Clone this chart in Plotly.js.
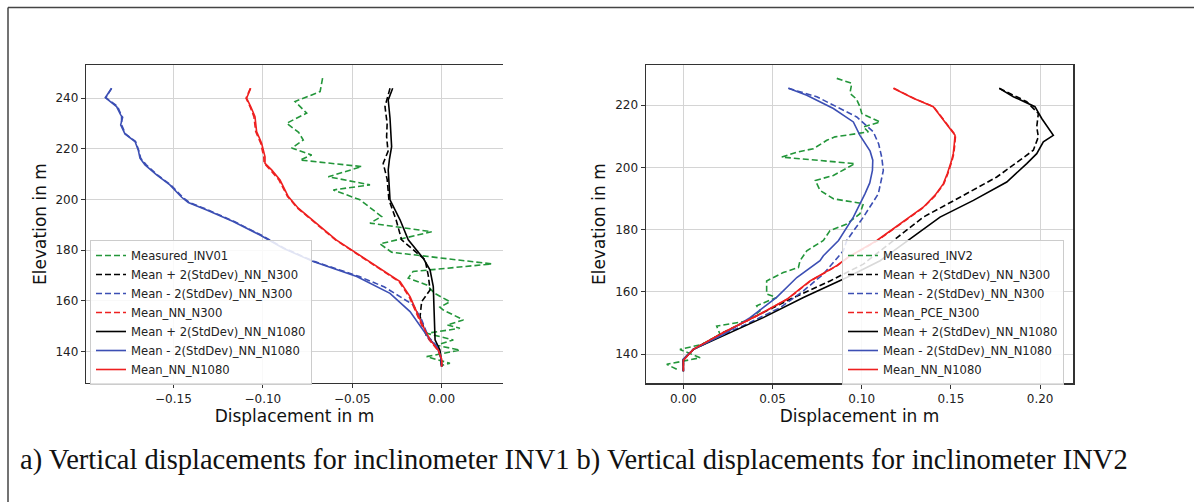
<!DOCTYPE html>
<html>
<head>
<meta charset="utf-8">
<script src="https://cdn.plot.ly/plotly-3.0.1.min.js"></script>
<style>html,body{margin:0;padding:0;background:#fff;}#chart{width:1194px;height:502px;}</style>
</head>
<body>
<div id="chart"></div>
<script>
// ---------------- INV1 (left panel) ----------------
const inv1MeasElev = [247.9,242.6,238.7,234.1,230.1,226.5,223.5,220.3,217.6,215.6,213.0,209.0,205.8,203.8,199.9,193.3,190.7,187.3,182.5,179.2,174.6,171.6,169.0,166.3,163.0,159.7,157.5,156.4,152.5,150.5,149.2,147.2,144.6,142.5,140.6,138.0,135.4,134.5];
const inv1MeasDisp = [-0.0666,-0.0680,-0.0820,-0.0755,-0.0867,-0.0800,-0.0774,-0.0839,-0.0727,-0.0792,-0.0447,-0.0634,-0.0401,-0.0606,-0.0457,-0.0336,-0.0401,-0.0056,-0.0345,-0.0280,0.0280,-0.0160,-0.0187,-0.0084,-0.0040,0.0046,-0.0010,0.0009,0.0121,0.0030,0.0102,-0.0084,0.0065,-0.0030,0.0102,-0.0084,0.0046,0.0000];

const inv1PlusN300Elev = [243.9,236.7,230.0,224.8,219.0,214.3,208.0,201.2,199.9,192.0,184.1,176.2,170.0,164.3,159.7,153.8,145.9,140.6,134.0];
const inv1PlusN300Disp = [-0.0289,-0.0317,-0.0305,-0.0308,-0.0300,-0.0327,-0.0305,-0.0299,-0.0295,-0.0255,-0.0224,-0.0093,-0.0075,-0.0065,-0.0112,-0.0121,-0.0084,-0.0010,0.0000];

const inv1MinusN300Elev = [243.9,240.2,236.7,233.0,229.5,225.9,222.9,219.6,216.3,213.7,209.7,205.8,200.9,198.8,195.9,191.3,186.0,180.8,175.5,169.6,165.5,161.7,158.4,152.5,145.9,142.2,138.0,134.0];
const inv1MinusN300Disp = [-0.1846,-0.1878,-0.1812,-0.1790,-0.1790,-0.1768,-0.1712,-0.1695,-0.1683,-0.1652,-0.1590,-0.1515,-0.1448,-0.1410,-0.1306,-0.1160,-0.1010,-0.0880,-0.0710,-0.0460,-0.0320,-0.0233,-0.0159,-0.0112,-0.0075,-0.0028,-0.0005,0.0000];

const inv1MeanN300Elev = [243.9,240.0,236.7,232.7,226.8,222.2,216.9,214.3,211.7,207.7,201.2,196.6,184.1,176.2,167.6,161.7,155.8,149.8,144.6,140.6,137.0,134.0];
const inv1MeanN300Disp = [-0.1070,-0.1094,-0.1072,-0.1050,-0.1040,-0.1012,-0.0995,-0.0993,-0.0958,-0.0910,-0.0862,-0.0806,-0.0594,-0.0423,-0.0238,-0.0182,-0.0146,-0.0108,-0.0070,-0.0022,0.0000,0.0000];

const inv1PlusN1080Elev = [243.9,239.3,232.1,226.0,220.9,216.0,211.7,206.0,199.9,192.0,184.1,176.8,172.2,165.6,155.1,144.6,140.6,134.0];
const inv1PlusN1080Disp = [-0.0274,-0.0299,-0.0289,-0.0282,-0.0280,-0.0292,-0.0299,-0.0294,-0.0289,-0.0233,-0.0187,-0.0103,-0.0065,-0.0047,-0.0043,-0.0037,-0.0010,0.0000];

const inv1MinusN1080Elev = [243.9,240.2,236.7,233.4,232.5,229.5,225.9,222.9,219.6,216.3,213.7,209.7,205.8,200.9,198.8,195.9,191.3,186.0,180.8,175.5,169.6,163.0,155.8,148.5,144.6,142.2,138.0,134.0];
const inv1MinusN1080Disp = [-0.1846,-0.1881,-0.1818,-0.1795,-0.1784,-0.1795,-0.1771,-0.1715,-0.1697,-0.1687,-0.1659,-0.1594,-0.1520,-0.1454,-0.1417,-0.1314,-0.1166,-0.1016,-0.0886,-0.0718,-0.0475,-0.0289,-0.0177,-0.0103,-0.0065,-0.0028,-0.0005,0.0000];

const inv1MeanN1080Elev = [243.9,240.0,236.7,232.7,226.8,222.2,216.9,214.3,211.7,207.7,201.2,196.6,184.1,176.2,167.6,161.7,155.8,149.8,144.6,140.6,137.0,134.0];
const inv1MeanN1080Disp = [-0.1068,-0.1091,-0.1068,-0.1044,-0.1035,-0.1007,-0.0988,-0.0988,-0.0951,-0.0904,-0.0858,-0.0802,-0.0590,-0.0419,-0.0233,-0.0177,-0.0140,-0.0103,-0.0065,-0.0019,0.0000,0.0000];

// ---------------- INV2 (right panel) ----------------
const inv2MeasElev = [228.6,227.0,223.8,222.0,219.5,217.3,214.6,213.0,211.4,209.8,208.7,206.0,204.9,203.3,201.2,197.4,195.8,192.6,189.9,188.3,185.1,181.8,179.7,176.5,173.2,170.0,167.8,166.2,163.5,159.3,158.2,155.5,153.9,150.6,149.0,146.3,143.1,141.5,138.8,136.7,135.1];
const inv2MeasDisp = [0.0860,0.0944,0.0934,0.0970,0.0990,0.1000,0.1103,0.1009,0.1037,0.0850,0.0804,0.0729,0.0636,0.0552,0.0962,0.0841,0.0740,0.0766,0.0841,0.1009,0.0990,0.0916,0.0822,0.0785,0.0692,0.0654,0.0645,0.0560,0.0467,0.0467,0.0523,0.0411,0.0430,0.0355,0.0187,0.0206,0.0103,-0.0019,0.0094,-0.0093,-0.0037];

const inv2PlusN300Elev = [225.4,221.1,217.3,213.0,209.8,205.5,202.3,196.9,190.4,184.0,177.5,168.9,163.5,157.6,152.3,146.9,141.5,138.3,134.5];
const inv2PlusN300Disp = [0.1771,0.1925,0.1990,0.1981,0.1990,0.1962,0.1887,0.1757,0.1551,0.1345,0.1200,0.1009,0.0822,0.0598,0.0411,0.0224,0.0056,0.0000,0.0000];

const inv2MinusN300Elev = [225.4,222.7,216.2,211.4,207.5,203.3,199.0,191.5,184.0,176.5,173.2,165.7,160.3,154.9,149.6,146.3,141.5,138.3,134.5];
const inv2MinusN300Disp = [0.0589,0.0748,0.0972,0.1065,0.1095,0.1112,0.1121,0.1093,0.1009,0.0916,0.0897,0.0785,0.0673,0.0542,0.0355,0.0224,0.0056,0.0000,0.0000];

const inv2MeanPceElev = [225.4,222.2,219.5,215.2,210.3,207.0,204.4,202.3,198.0,194.7,191.0,187.2,181.8,176.5,171.0,168.4,163.5,157.6,152.3,146.9,141.5,138.0,134.5];
const inv2MeanPceDisp = [0.1180,0.1292,0.1403,0.1460,0.1526,0.1521,0.1516,0.1507,0.1483,0.1460,0.1413,0.1348,0.1218,0.1088,0.0923,0.0863,0.0713,0.0583,0.0414,0.0226,0.0056,0.0000,0.0000];

const inv2PlusN1080Elev = [225.4,222.7,219.5,215.7,210.3,208.2,204.4,201.2,195.3,189.4,184.0,177.5,170.0,164.6,158.2,151.7,146.9,141.5,138.3,134.5];
const inv2PlusN1080Disp = [0.1771,0.1850,0.1971,0.2009,0.2074,0.2018,0.1981,0.1925,0.1813,0.1626,0.1439,0.1285,0.1103,0.0916,0.0673,0.0448,0.0262,0.0056,0.0000,0.0000];

const inv2MinusN1080Elev = [225.4,223.2,218.9,214.6,210.3,205.2,202.3,199.0,195.0,191.5,184.0,180.7,176.5,171.6,170.0,164.6,158.2,151.7,146.3,141.5,138.3,134.5];
const inv2MinusN1080Disp = [0.0589,0.0692,0.0841,0.0953,0.0990,0.1047,0.1062,0.1060,0.1045,0.1018,0.0953,0.0916,0.0870,0.0785,0.0766,0.0636,0.0523,0.0374,0.0224,0.0056,0.0000,0.0000];

const inv2MeanN1080Elev = [225.4,222.2,219.5,215.2,210.3,207.0,204.4,202.3,198.0,194.7,191.0,187.2,181.8,176.5,171.0,168.4,163.5,157.6,152.3,146.9,141.5,138.0,134.5];
const inv2MeanN1080Disp = [0.1177,0.1289,0.1401,0.1457,0.1523,0.1518,0.1513,0.1504,0.1480,0.1457,0.1410,0.1345,0.1215,0.1085,0.0920,0.0860,0.0710,0.0580,0.0411,0.0224,0.0056,0.0000,0.0000];

// ---------------- labels / ticks ----------------
const namesLeft = ["Measured_INV01","Mean + 2(StdDev)_NN_N300","Mean - 2(StdDev)_NN_N300","Mean_NN_N300","Mean + 2(StdDev)_NN_N1080","Mean - 2(StdDev)_NN_N1080","Mean_NN_N1080"];
const namesRight = ["Measured_INV2","Mean + 2(StdDev)_NN_N300","Mean - 2(StdDev)_NN_N300","Mean_PCE_N300","Mean + 2(StdDev)_NN_N1080","Mean - 2(StdDev)_NN_N1080","Mean_NN_N1080"];
const xTicksLeft = [-0.15,-0.10,-0.05,0.00];
const yTicksLeft = [140,160,180,200,220,240];
const xTicksRight = [0.00,0.05,0.10,0.15,0.20];
const yTicksRight = [140,160,180,200,220];
const xTitle = "Displacement in m";
const yTitle = "Elevation in m";
const caption = "a) Vertical displacements for inclinometer INV1 b) Vertical displacements for inclinometer INV2";

// ---------------- styles ----------------
const GREEN = "#23963a", BLACK = "#000000", BLUE = "#3c4fb4", RED = "#ee2020";
const DASH = "6px,3px";
const styles = [
  {color: GREEN, dash: DASH},
  {color: BLACK, dash: DASH},
  {color: BLUE, dash: DASH},
  {color: RED, dash: DASH},
  {color: BLACK, dash: "solid"},
  {color: BLUE, dash: "solid"},
  {color: RED, dash: "solid"}
];

const leftSeries = [
  [inv1MeasDisp, inv1MeasElev],
  [inv1PlusN300Disp, inv1PlusN300Elev],
  [inv1MinusN300Disp, inv1MinusN300Elev],
  [inv1MeanN300Disp, inv1MeanN300Elev],
  [inv1PlusN1080Disp, inv1PlusN1080Elev],
  [inv1MinusN1080Disp, inv1MinusN1080Elev],
  [inv1MeanN1080Disp, inv1MeanN1080Elev]
];
const rightSeries = [
  [inv2MeasDisp, inv2MeasElev],
  [inv2PlusN300Disp, inv2PlusN300Elev],
  [inv2MinusN300Disp, inv2MinusN300Elev],
  [inv2MeanPceDisp, inv2MeanPceElev],
  [inv2PlusN1080Disp, inv2PlusN1080Elev],
  [inv2MinusN1080Disp, inv2MinusN1080Elev],
  [inv2MeanN1080Disp, inv2MeanN1080Elev]
];

const traces = [];
leftSeries.forEach((s, i) => {
  traces.push({x: s[0], y: s[1], type: "scatter", mode: "lines", name: namesLeft[i],
    xaxis: "x", yaxis: "y", legend: "legend",
    line: {color: styles[i].color, dash: styles[i].dash, width: 1.6}});
});
rightSeries.forEach((s, i) => {
  traces.push({x: s[0], y: s[1], type: "scatter", mode: "lines", name: namesRight[i],
    xaxis: "x2", yaxis: "y2", legend: "legend2",
    line: {color: styles[i].color, dash: styles[i].dash, width: 1.6}});
});

const W = 1194, H = 502;
const tickFont = {family: "DejaVu Sans", size: 12, color: "#222"};
const titleFont = {family: "DejaVu Sans", size: 17, color: "#111"};
const legendFont = {family: "DejaVu Sans", size: 11.6, color: "#222"};
const axisCommon = {
  showgrid: true, gridcolor: "#d4d4d4", gridwidth: 1, zeroline: false,
  showline: true, linecolor: "#333", linewidth: 1.2,
  ticks: "outside", ticklen: 4, tickwidth: 1, tickcolor: "#333",
  tickfont: tickFont, fixedrange: true
};

const layout = {
  width: W, height: H,
  margin: {l: 0, r: 0, t: 0, b: 0},
  paper_bgcolor: "#fff", plot_bgcolor: "#fff",
  font: {family: "DejaVu Sans", size: 12, color: "#222"},
  showlegend: true,
  xaxis: Object.assign({}, axisCommon, {
    domain: [86 / W, 503 / W], range: [-0.1989, (503 - 441.7) / 1788],
    tickvals: xTicksLeft, tickformat: ".2f", mirror: true,
    title: {text: xTitle, font: titleFont, standoff: 5}, anchor: "y"
  }),
  yaxis: Object.assign({}, axisCommon, {
    domain: [1 - 383 / H, 1 - 65 / H], range: [127.6, 253.1],
    tickvals: yTicksLeft, mirror: false,
    title: {text: yTitle, font: titleFont, standoff: 4}, anchor: "x"
  }),
  xaxis2: Object.assign({}, axisCommon, {
    domain: [645.7 / W, 1073.3 / W], range: [-0.0211, 0.2186],
    tickvals: xTicksRight, tickformat: ".2f", mirror: true,
    title: {text: xTitle, font: titleFont, standoff: 5}, anchor: "y2"
  }),
  yaxis2: Object.assign({}, axisCommon, {
    domain: [1 - 383.3 / H, 1 - 65 / H], range: [130.6, 232.9],
    tickvals: yTicksRight, mirror: true,
    title: {text: yTitle, font: titleFont, standoff: 5}, anchor: "x2"
  }),
  legend: {
    x: 90 / W, y: 1 - 240 / H, xanchor: "left", yanchor: "top",
    bgcolor: "rgba(255,255,255,0.85)", bordercolor: "#cccccc", borderwidth: 1,
    font: legendFont, tracegroupgap: 0
  },
  legend2: {
    x: 842 / W, y: 1 - 240 / H, xanchor: "left", yanchor: "top",
    bgcolor: "rgba(255,255,255,0.85)", bordercolor: "#cccccc", borderwidth: 1,
    font: legendFont, tracegroupgap: 0
  },
  annotations: [{
    text: caption, xref: "paper", yref: "paper",
    x: 18 / W, y: 1 - 460 / H, xanchor: "left", yanchor: "middle",
    showarrow: false, font: {family: "Liberation Serif", size: 28.5, color: "#111"}
  }],
  shapes: [
    {type: "line", xref: "paper", yref: "paper", x0: 8 / W, x1: 1, y0: 1 - 7.5 / H, y1: 1 - 7.5 / H,
     line: {color: "#444", width: 1.5}},
    {type: "line", xref: "paper", yref: "paper", x0: 8 / W, x1: 8 / W, y0: 0, y1: 1 - 7.5 / H,
     line: {color: "#444", width: 1.5}}
  ]
};

Plotly.newPlot("chart", traces, layout, {staticPlot: true, displayModeBar: false});
</script>
</body>
</html>
